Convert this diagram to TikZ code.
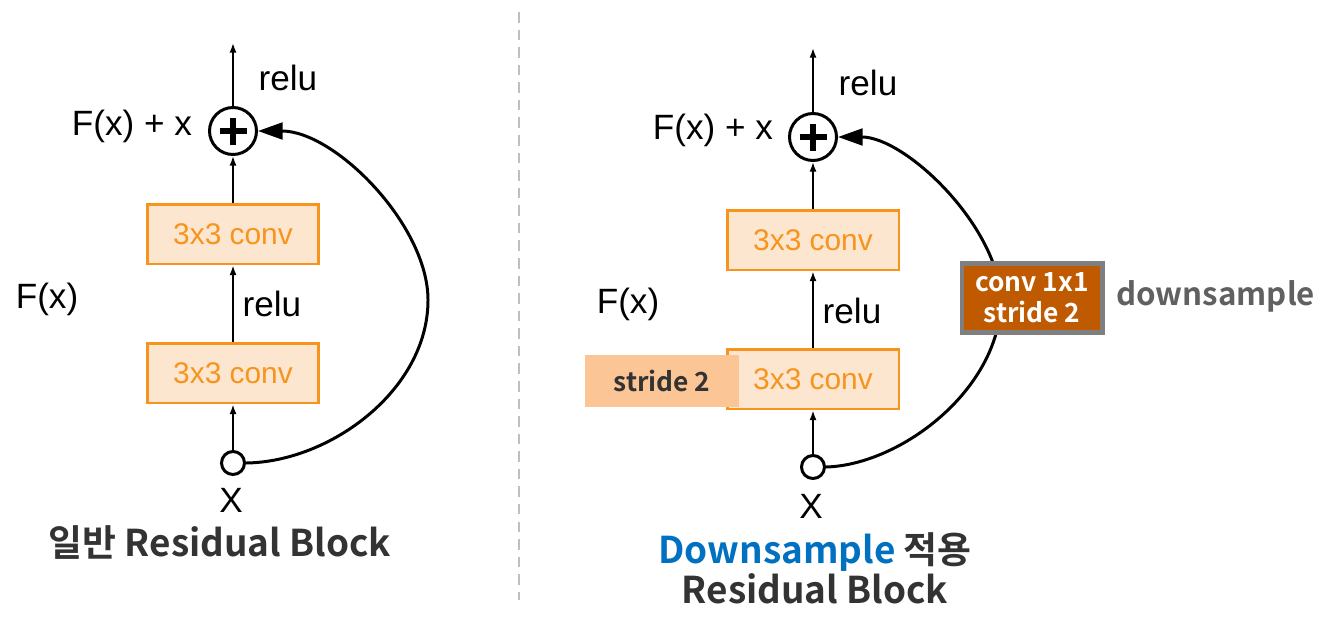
\documentclass[tikz,border=0pt]{standalone}
\usepackage{fontspec}
\setmainfont{Liberation Sans}
\newfontfamily\kofont{Noto Sans CJK KR Bold}
\usetikzlibrary{arrows.meta}

\definecolor{boxfill}{HTML}{FDE6D0}
\definecolor{boxline}{HTML}{F7941D}
\definecolor{stridefill}{HTML}{FBC595}
\definecolor{dsfill}{HTML}{C05A00}
\definecolor{dsline}{HTML}{7F7F7F}
\definecolor{dstext}{HTML}{606060}
\definecolor{titlegray}{HTML}{333333}
\definecolor{dsblue}{HTML}{0070C0}
\definecolor{sepgray}{HTML}{BFBFBF}

\tikzset{
  lbl/.style={font=\fontsize{20}{23}\selectfont},
  conv/.style={draw=boxline, fill=boxfill, line width=1.7pt, minimum width=3.44cm,
    minimum height=1.2cm, text=boxline, font=\fontsize{17}{19}\selectfont},
  addop/.style={draw, circle, line width=1.7pt, minimum size=0.94cm, inner sep=0pt},
  inp/.style={draw, circle, line width=1.7pt, minimum size=0.46cm, inner sep=0pt},
  thin/.style={line width=0.9pt, -{Latex[length=5.5pt,width=4pt]}},
  skip/.style={line width=1.7pt, -{Triangle[length=14pt,width=9.5pt]}},
  title/.style={font=\kofont\fontsize{21}{25}\selectfont, text=titlegray, inner sep=0pt,
    text height=0.74em, text depth=0.2em, anchor=base}
}

\begin{document}
\begin{tikzpicture}[x=0.02cm, y=-0.02cm]
\useasboundingbox (0,0) rectangle (1334,632);

% 구분선
\draw[sepgray, line width=1.1pt, dash pattern=on 6pt off 4pt] (519,12) -- (519,600);

% 일반 Residual Block
\node[addop] (add1) at (233,131) {};
\draw[line width=3pt] ([xshift=-0.27cm]add1.center) -- ([xshift=0.27cm]add1.center);
\draw[line width=3pt] ([yshift=-0.27cm]add1.center) -- ([yshift=0.27cm]add1.center);
\node[conv] (c1a) at (233,234) {3x3 conv};
\node[conv] (c1b) at (233,373) {3x3 conv};
\node[inp] (x1) at (233,463) {};
\coordinate (out1) at (233,43);

\draw[thin] (x1) -- (c1b);
\draw[thin] (c1b) -- (c1a);
\draw[thin] (c1a) -- (add1);
\draw[thin] (add1) -- (out1);
\draw[skip] (x1.east) .. controls (330,462) and (428,390) .. (428,300)
  .. controls (428,225) and (335,131) .. (add1.east);

\node[lbl] (relu1t) at (288,78) {relu};
\node[lbl] (sum1) at (132,126) {F(x) + x};
\node[lbl] (fx1) at (47,299) {F(x)};
\node[lbl] (relu1m) at (272,304) {relu};
\node[lbl, inner sep=0pt, anchor=base] (xl1) at (231,512) {X};
\node[title] (t1) at (220,556) {일반 Residual Block};

% Downsample 적용 Residual Block
\node[addop] (add2) at (813,137) {};
\draw[line width=3pt] ([xshift=-0.27cm]add2.center) -- ([xshift=0.27cm]add2.center);
\draw[line width=3pt] ([yshift=-0.27cm]add2.center) -- ([yshift=0.27cm]add2.center);
\node[conv] (c2a) at (813,240) {3x3 conv};
\node[conv] (c2b) at (813,379) {3x3 conv};
\node[inp] (x2) at (813,467) {};
\coordinate (out2) at (813,48);

\draw[thin] (x2) -- (c2b);
\draw[thin] (c2b) -- (c2a);
\draw[thin] (c2a) -- (add2);
\draw[thin] (add2) -- (out2);
\draw[skip] (x2.east) .. controls (900,465) and (1000,390) .. (1001,300)
  .. controls (998,225) and (905,137) .. (add2.east);

\node[fill=stridefill, minimum width=3.1cm, minimum height=1.04cm, text=titlegray,
  font=\kofont\fontsize{15}{17}\selectfont] (str) at (662,381) {stride 2};
\node[draw=dsline, fill=dsfill, line width=2.3pt, minimum width=2.82cm, minimum height=1.38cm,
  text=white, align=center, inner sep=0pt, font=\kofont\fontsize{15}{17.5}\selectfont]
  (ds) at (1032,298) {conv 1x1\\stride 2};
\node[font=\kofont\fontsize{17.8}{21}\selectfont, text=dstext, anchor=west] (dsl) at (1110,296) {downsample};

\node[lbl] (relu2t) at (868,83) {relu};
\node[lbl] (sum2) at (713,130) {F(x) + x};
\node[lbl] (fx2) at (628,304) {F(x)};
\node[lbl] (relu2m) at (852,311) {relu};
\node[lbl, inner sep=0pt, anchor=base] (xl2) at (811,518) {X};
\node[title] (t2a) at (815,563) {\textcolor{dsblue}{Downsample} 적용};
\node[title] (t2b) at (815,603) {Residual Block};
\end{tikzpicture}
\end{document}
